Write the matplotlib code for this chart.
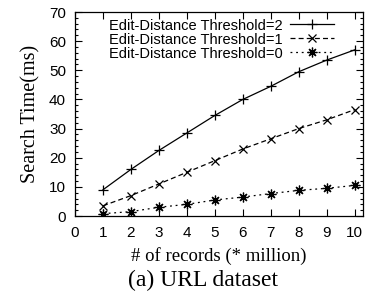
import matplotlib
matplotlib.use("Agg")
from matplotlib import pyplot as plt
from matplotlib.ticker import MultipleLocator

records = [1, 2, 3, 4, 5, 6, 7, 8, 9, 10]
ed2 = [9, 16, 22.5, 28.5, 34.5, 40, 44.5, 49.5, 53.5, 57]
ed1 = [3.5, 7, 11, 15, 19, 23, 26.5, 30, 33, 36.5]
ed0 = [0.8, 1.5, 3, 4, 5.5, 6.5, 7.7, 8.8, 9.5, 10.5]
labels = ['Edit-Distance Threshold=2', 'Edit-Distance Threshold=1', 'Edit-Distance Threshold=0']

sans = 'Liberation Sans'
serif = 'Liberation Serif'

fig = plt.figure(figsize=(3.66, 3.0), dpi=100)
ax = fig.add_axes([0.205, 0.28, 0.787, 0.68])

ax.plot(records, ed2, color='black', lw=0.9, ls='-', marker='+', ms=7, mew=0.9, label=labels[0])
ax.plot(records, ed1, color='black', lw=0.9, ls=(0, (4, 2.5)), marker='x', ms=5.5, mew=0.9, label=labels[1])
ax.plot(records, ed0, color='black', lw=0.9, ls=(0, (1.5, 3)), marker=(8, 2, 0), ms=7, mew=0.9, label=labels[2])

ax.set_xlim(0, 10.3)
ax.set_ylim(0, 70)
ax.xaxis.set_major_locator(MultipleLocator(1))
ax.yaxis.set_major_locator(MultipleLocator(10))
ax.yaxis.set_minor_locator(MultipleLocator(2))
ax.tick_params(which='both', direction='in', top=True, right=True, width=0.8)
ax.tick_params(which='major', length=5, labelsize=11)
ax.tick_params(axis='y', pad=6.5)
ax.tick_params(axis='x', pad=7)
ax.tick_params(which='minor', length=2.5)
for lab in ax.get_xticklabels() + ax.get_yticklabels():
    lab.set_family(sans)
for s in ax.spines.values():
    s.set_linewidth(0.9)

ax.set_xlabel('# of records (* million)', family=serif, fontsize=13.5, labelpad=5)
ax.set_ylabel('Search Time(ms)', family=serif, fontsize=14.5, labelpad=6)

leg = ax.legend(loc='upper right', bbox_to_anchor=(0.935, 1.018), frameon=False, markerfirst=False,
                prop={'family': sans, 'size': 10.5}, labelspacing=0.0, handlelength=3.0,
                handletextpad=0.5, borderpad=0.2)
for t in leg.get_texts():
    t.set_ha('right')

fig.text(0.555, 0.045, '(a) URL dataset', family=serif, fontsize=17, ha='center')

plt.savefig('out.png', dpi=100)
